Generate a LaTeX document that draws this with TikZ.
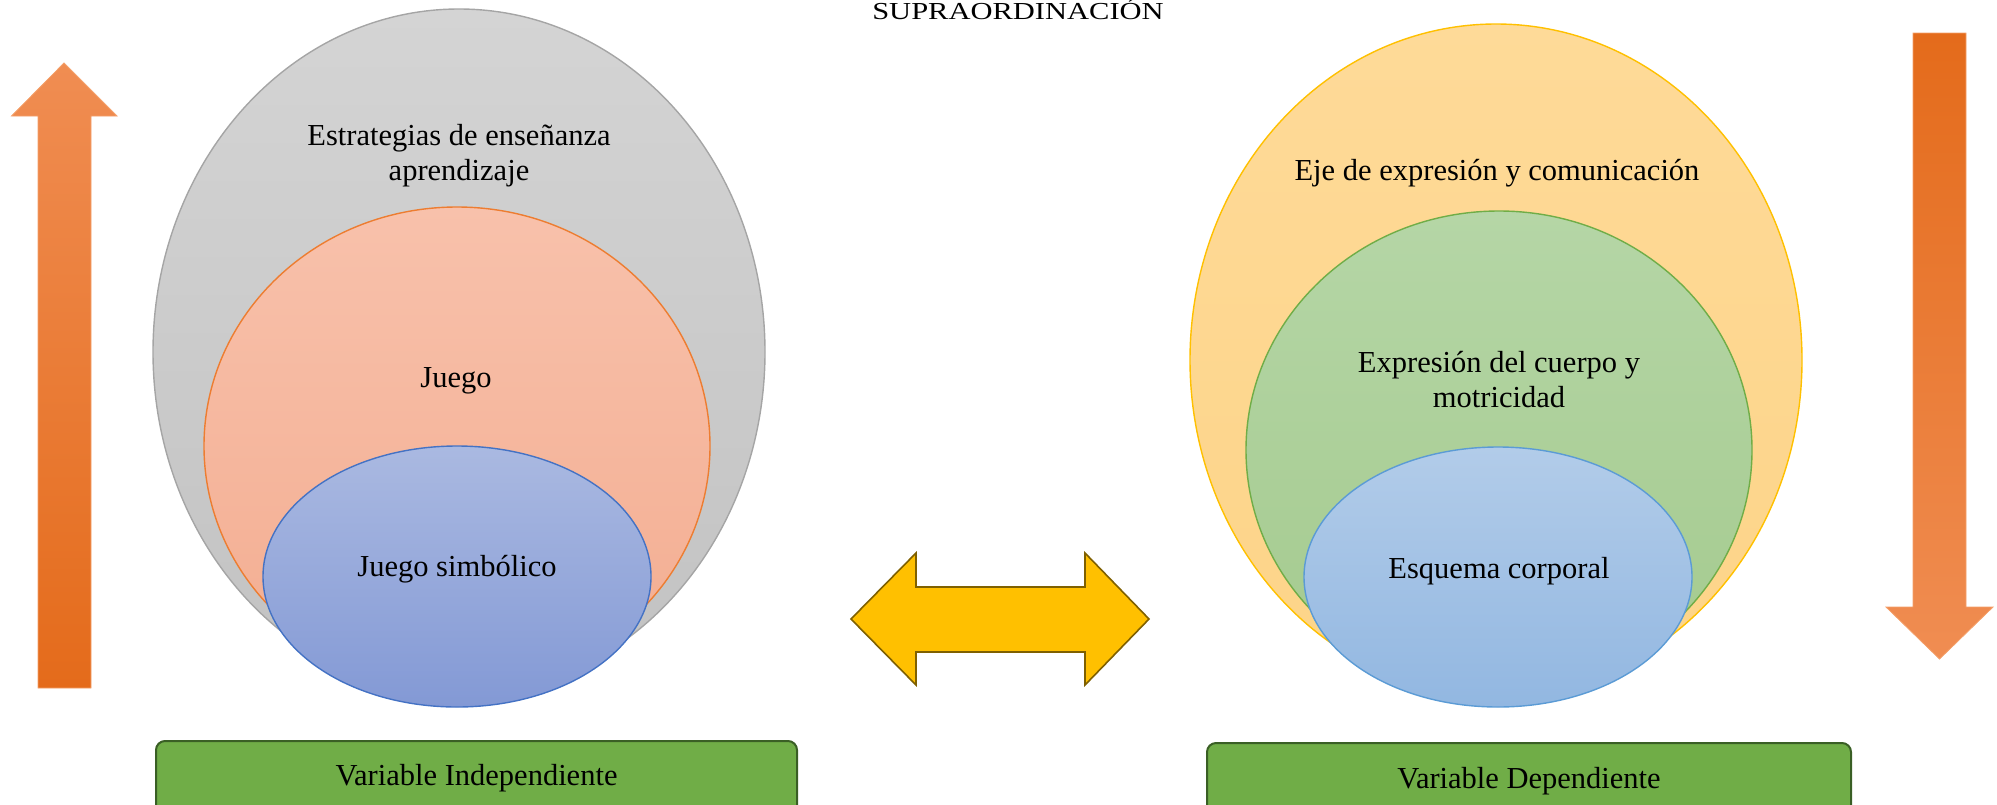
\documentclass[tikz,border=0pt]{standalone}
\usepackage{fontspec}
\setmainfont{Liberation Serif}
\usetikzlibrary{shapes.geometric}
\newcommand\diagfont{\fontsize{30.5}{35}\selectfont}
\definecolor{grayT}{HTML}{D4D4D4}
\definecolor{grayB}{HTML}{C2C2C2}
\definecolor{grayD}{HTML}{A5A5A5}
\definecolor{salT}{HTML}{F8C1AB}
\definecolor{salB}{HTML}{F3AD91}
\definecolor{salD}{HTML}{ED7D31}
\definecolor{bluLT}{HTML}{AAB9E1}
\definecolor{bluLB}{HTML}{8399D5}
\definecolor{bluLD}{HTML}{4472C4}
\definecolor{yelT}{HTML}{FEDA98}
\definecolor{yelB}{HTML}{FDD488}
\definecolor{yelD}{HTML}{FFC000}
\definecolor{grnT}{HTML}{B5D6A6}
\definecolor{grnB}{HTML}{A4CA8E}
\definecolor{grnD}{HTML}{70AD47}
\definecolor{bluRT}{HTML}{B2CCE9}
\definecolor{bluRB}{HTML}{92B7E1}
\definecolor{bluRD}{HTML}{5B9BD5}
\definecolor{orLight}{HTML}{F08D52}
\definecolor{orMid}{HTML}{F47C2C}
\definecolor{orDark}{HTML}{E46B1B}
\definecolor{orLine}{HTML}{F4A06A}
\definecolor{gold}{HTML}{FFC000}
\definecolor{goldD}{HTML}{7F6000}
\definecolor{boxgreen}{HTML}{70AD47}
\definecolor{boxline}{HTML}{3A5F25}
\tikzset{
  ell/.style={ellipse, inner sep=0pt, outer sep=0pt, line width=1.4pt},
  lbl/.style={font=\diagfont, anchor=base, align=center, inner sep=0pt},
  varbox/.style={rectangle, rounded corners=9pt, fill=boxgreen, draw=boxline,
    line width=2pt, font=\diagfont, inner sep=0pt},
  orarrow/.style={draw=orLine, line width=0.8pt},
  dblarrow/.style={fill=gold, draw=goldD, line width=1.6pt, line join=miter}
}
\begin{document}
\begin{tikzpicture}[x=1pt,y=-1pt]
\useasboundingbox (0,0) rectangle (1997,804);
% title
\node[lbl] (title) at (1018,19.5) {\scalebox{1}[0.8]{SUPRAORDINACIÓN}};
% left orange up arrow
\path[orarrow, top color=orLight, middle color=orMid, bottom color=orDark]
  (64,63) -- (117,116) -- (91,116) -- (91,688) -- (38,688) -- (38,116) -- (11.5,116) -- cycle;
% right orange down arrow
\path[orarrow, top color=orDark, middle color=orMid, bottom color=orLight]
  (1913,33) -- (1966,33) -- (1966,607) -- (1993,607) -- (1939.5,659) -- (1886,607) -- (1913,607) -- cycle;
% left ellipses
\node[ell, minimum width=612pt, minimum height=686pt, top color=grayT, bottom color=grayB, draw=grayD] (gray) at (459,352) {};
\node[ell, minimum width=506pt, minimum height=478pt, top color=salT, bottom color=salB, draw=salD] (juego) at (457,446) {};
\node[ell, minimum width=388pt, minimum height=261pt, top color=bluLT, bottom color=bluLB, draw=bluLD] (simb) at (457,576.5) {};
% right ellipses
\node[ell, minimum width=612pt, minimum height=672pt, top color=yelT, bottom color=yelB, draw=yelD] (eje) at (1496,360) {};
\node[ell, minimum width=506pt, minimum height=478pt, top color=grnT, bottom color=grnB, draw=grnD] (cuerpo) at (1499,450) {};
\node[ell, minimum width=388pt, minimum height=260pt, top color=bluRT, bottom color=bluRB, draw=bluRD] (esq) at (1498,577) {};
% labels
\node[lbl] (tEst) at (459,180) {Estrategias de enseñanza\\aprendizaje};
\node[lbl] (tJue) at (456,387) {Juego};
\node[lbl] (tSim) at (457,576) {Juego simbólico};
\node[lbl] (tEje) at (1497,180) {Eje de expresión y comunicación};
\node[lbl] (tCue) at (1499,407) {Expresión del cuerpo y\\motricidad};
\node[lbl] (tEsq) at (1499,578) {Esquema corporal};
% double arrow
\path[dblarrow] (851,619) -- (916,553) -- (916,587) -- (1085,587) -- (1085,553) -- (1149,619)
  -- (1085,685) -- (1085,652) -- (916,652) -- (916,685) -- cycle;
% variable boxes
\node[varbox, minimum width=641pt, minimum height=74pt] (vi) at (476.5,778) {Variable Independiente};
\node[varbox, minimum width=644pt, minimum height=76pt] (vd) at (1529,781) {Variable Dependiente};
\end{tikzpicture}
\end{document}
